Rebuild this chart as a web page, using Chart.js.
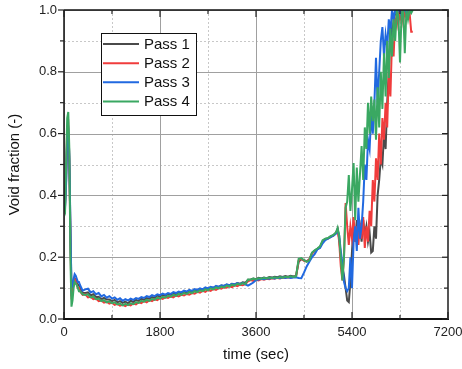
<!DOCTYPE html>
<html><head><meta charset="utf-8">
<script src="https://cdn.jsdelivr.net/npm/chart.js@4"></script>
<style>html,body{margin:0;padding:0;background:#fff}#wrap{position:relative;width:462px;height:369px}</style>
</head><body><div id="wrap"><canvas id="c" width="462" height="369"></canvas></div>
<script>
// time (sec)
const times = [0,20,40,60,80,100,120,140,160,180,200,220,240,260,280,300,
350,400,450,500,550,600,650,700,750,800,
850,900,950,1000,1050,1100,1150,1200,1250,1300,
1350,1400,1450,1500,1550,1600,1650,1700,1750,1800,
1850,1900,1950,2000,2050,2100,2150,2200,2250,2300,
2350,2400,2450,2500,2550,2600,2650,2700,2750,2800,
2850,2900,2950,3000,3050,3100,3150,3200,3250,3300,
3350,3400,3450,3500,3550,3600,3650,3700,3750,3800,
3850,3900,3950,4000,4050,4100,4150,4200,4250,4300,
4350,4400,4450,4500,4550,4600,4650,4700,4750,4800,4850,4900,4950,5000,5050,5100,
5130,5160,5190,5220,5250,5280,5310,5340,5370,5400,5430,5460,5490,5520,5550,5580,5610,5640,5670,5700,5730,5760,5790,5820,5850,5880,5910,5940,5970,6000,6030,6060,6090,6120,6150,6180,6210,6240,6270,6300,6330,6360,6390,6420,6450,6480,6510,6540];

const pass1 = [0.38,0.37,0.45,0.58,0.60,0.50,0.30,0.09,0.10,0.12,0.13,0.13,0.12,0.11,0.11,0.10,
.085,.084,.086,.076,.080,.071,.072,.064,.068,.063,
.063,.058,.062,.054,.058,.052,.056,.051,.059,.055,
.062,.058,.066,.062,.068,.066,.071,.068,.076,.073,
.078,.075,.081,.078,.083,.080,.086,.083,.089,.086,
.092,.089,.094,.092,.097,.095,.100,.098,.102,.101,
.105,.104,.108,.107,.111,.109,.114,.112,.116,.114,
.119,.117,.127,.128,.131,.129,.133,.131,.134,.132,
.136,.134,.137,.135,.138,.136,.139,.137,.140,.138,
.138,.185,.194,.19,.187,.193,.213,.221,.227,.233,.252,.259,.261,.267,.27,.279,
0.29,0.26,0.2,0.17,0.14,0.1,0.06,0.055,0.12,0.22,0.3,0.25,0.32,0.27,0.3,0.25,0.32,0.27,0.3,0.25,0.28,0.215,0.22,0.3,0.26,0.4,0.45,0.52,0.5,0.6,0.55,0.7,0.8,0.96,0.9,0.97,1.0,0.98,1.0,1.0,0.99,1.0,1.0,0.98,1.0,1.0,1.0,1.0];

const pass2 = [0.39,0.37,0.48,0.62,0.63,0.52,0.25,0.08,0.09,0.12,0.13,0.12,0.11,0.10,0.10,0.09,
.078,.080,.070,.072,.064,.066,.058,.060,.053,.056,
.050,.053,.046,.049,.043,.046,.042,.047,.044,.050,
.047,.054,.051,.058,.054,.061,.058,.064,.061,.068,
.065,.070,.068,.073,.070,.076,.073,.078,.076,.081,
.079,.084,.082,.088,.085,.091,.088,.094,.091,.097,
.094,.100,.098,.103,.101,.106,.103,.109,.106,.111,
.109,.113,.122,.126,.123,.127,.125,.129,.127,.130,
.129,.132,.130,.133,.131,.134,.133,.135,.134,.136,
.137,.19,.195,.188,.186,.192,.212,.22,.226,.232,.25,.258,.26,.266,.27,.278,
0.29,0.25,0.17,0.125,0.2,0.375,0.3,0.24,0.3,0.26,0.33,0.25,0.3,0.24,0.31,0.26,0.33,0.23,0.3,0.25,0.35,0.3,0.45,0.38,0.52,0.45,0.6,0.5,0.65,0.58,0.7,0.62,0.8,0.72,0.9,0.85,0.97,0.95,1.0,0.97,1.0,0.96,1.0,0.98,1.0,0.99,0.93,0.93];

const pass3 = [0.37,0.36,0.44,0.60,0.61,0.53,0.30,0.10,0.11,0.13,0.145,0.14,0.13,0.12,0.12,0.11,
.092,.096,.098,.086,.090,.080,.084,.073,.078,.069,
.074,.066,.070,.062,.067,.059,.064,.060,.066,.062,
.068,.065,.071,.068,.074,.071,.077,.074,.080,.077,
.082,.079,.084,.081,.087,.084,.089,.086,.092,.089,
.094,.091,.097,.094,.099,.096,.102,.099,.104,.101,
.107,.104,.109,.107,.112,.109,.114,.111,.116,.113,
.117,.112,.108,.113,.118,.126,.128,.130,.129,.132,
.130,.133,.131,.134,.132,.135,.133,.135,.133,.134,
.135,.133,.132,.15,.17,.185,.2,.21,.225,.23,.245,.255,.26,.265,.27,.276,
0.29,0.27,0.22,0.18,0.12,0.1,0.09,0.1,0.2,0.1,0.25,0.3,0.22,0.36,0.26,0.3,0.38,0.5,0.45,0.58,0.55,0.66,0.6,0.7,0.845,0.7,0.8,0.9,0.945,0.85,0.92,0.88,0.97,0.93,1.0,0.97,1.0,0.99,1.0,1.0,0.98,1.0,1.0,0.99,1.0,1.0,1.0,1.0];

const pass4 = [0.36,0.35,0.50,0.65,0.67,0.55,0.20,0.04,0.06,0.10,0.12,0.115,0.11,0.10,0.09,0.09,
.080,.078,.080,.070,.073,.064,.066,.058,.061,.054,
.057,.051,.054,.047,.050,.044,.049,.045,.051,.048,
.055,.052,.059,.056,.062,.059,.065,.062,.069,.066,
.072,.069,.075,.072,.078,.075,.081,.078,.084,.081,
.087,.084,.090,.087,.093,.090,.096,.093,.099,.096,
.102,.099,.105,.102,.108,.105,.111,.108,.114,.111,
.116,.113,.128,.127,.131,.128,.132,.130,.133,.131,
.134,.132,.135,.133,.136,.134,.137,.135,.138,.136,
.138,.195,.197,.19,.185,.19,.215,.222,.228,.235,.255,.26,.262,.268,.272,.28,
0.295,0.27,0.2,0.125,0.2,0.36,0.38,0.466,0.35,0.42,0.505,0.32,0.49,0.38,0.47,0.56,0.45,0.62,0.55,0.70,0.6,0.72,0.64,0.71,0.58,0.75,0.62,0.8,0.68,0.86,0.72,0.9,0.78,0.94,0.85,0.97,0.9,1.0,0.98,0.83,0.99,1.0,0.86,1.0,0.97,1.0,0.99,1.0];

const seriesNames = ['Pass 1','Pass 2','Pass 3','Pass 4'];
const seriesColors = ['#4a4a4a','#f03c3c','#2169e0','#3aa862'];
const xMajor = [0,1800,3600,5400,7200];
const xMinor = [900,2700,4500,6300];
const yMajor = [0,0.2,0.4,0.6,0.8,1.0];
const yMinor = [0.1,0.3,0.5,0.7,0.9];
const xTitle = 'time (sec)';
const yTitle = 'Void fraction (-)';

const FONT = '"Liberation Sans", Arial, sans-serif';
const allSeries = [pass1,pass2,pass3,pass4];

const datasets = allSeries.map((arr,k)=>({
  label: seriesNames[k],
  data: times.map((t,i)=>({x:t,y:arr[i]})),
  borderColor: seriesColors[k],
  backgroundColor: seriesColors[k],
  borderWidth: 2,
  pointRadius: 0,
  tension: 0,
  order: 4-k
}));

const frame = {
  id:'frame',
  beforeDatasetsDraw(chart){
    const {ctx, chartArea:a, scales:{x,y}} = chart;
    ctx.save();
    ctx.lineWidth = 1;
    ctx.strokeStyle = '#c8c8c8';
    ctx.setLineDash([2,2]);
    xMinor.forEach(v=>{const px=Math.round(x.getPixelForValue(v))+0.5;ctx.beginPath();ctx.moveTo(px,a.top);ctx.lineTo(px,a.bottom);ctx.stroke();});
    yMinor.forEach(v=>{const py=Math.round(y.getPixelForValue(v))+0.5;ctx.beginPath();ctx.moveTo(a.left,py);ctx.lineTo(a.right,py);ctx.stroke();});
    ctx.setLineDash([]);
    ctx.strokeStyle = '#a0a0a0';
    xMajor.forEach(v=>{const px=Math.round(x.getPixelForValue(v))+0.5;ctx.beginPath();ctx.moveTo(px,a.top);ctx.lineTo(px,a.bottom);ctx.stroke();});
    yMajor.forEach(v=>{const py=Math.round(y.getPixelForValue(v))+0.5;ctx.beginPath();ctx.moveTo(a.left,py);ctx.lineTo(a.right,py);ctx.stroke();});
    ctx.restore();
  },
  afterDatasetsDraw(chart){
    const {ctx, chartArea:a, scales:{x,y}} = chart;
    ctx.save();
    ctx.strokeStyle='#111'; ctx.lineWidth=1.5;
    ctx.beginPath(); ctx.moveTo(a.left,a.top); ctx.lineTo(a.right,a.top); ctx.stroke();
    ctx.beginPath(); ctx.moveTo(a.left,a.top); ctx.lineTo(a.left,a.bottom); ctx.stroke();
    ctx.lineWidth=2;
    ctx.beginPath(); ctx.moveTo(a.left-1,a.bottom); ctx.lineTo(a.right+1,a.bottom); ctx.stroke();
    ctx.strokeStyle='#555';
    ctx.beginPath(); ctx.moveTo(a.right,a.top-1); ctx.lineTo(a.right,a.bottom); ctx.stroke();
    ctx.strokeStyle='#222'; ctx.lineWidth=1.2;
    const tickX=(v,len)=>{const px=x.getPixelForValue(v);
      ctx.beginPath();ctx.moveTo(px,a.bottom);ctx.lineTo(px,a.bottom-len);ctx.stroke();
      ctx.beginPath();ctx.moveTo(px,a.top);ctx.lineTo(px,a.top+len);ctx.stroke();};
    const tickY=(v,len)=>{const py=y.getPixelForValue(v);
      ctx.beginPath();ctx.moveTo(a.left,py);ctx.lineTo(a.left-len,py);ctx.stroke();
      ctx.beginPath();ctx.moveTo(a.right,py);ctx.lineTo(a.right-len,py);ctx.stroke();};
    xMajor.forEach(v=>tickX(v,7)); xMinor.forEach(v=>tickX(v,4));
    yMajor.forEach(v=>tickY(v,6)); yMinor.forEach(v=>tickY(v,4));
    const lx=101, ly=33, lw=95, lh=82;
    ctx.fillStyle='#fff'; ctx.fillRect(lx,ly,lw,lh);
    ctx.strokeStyle='#111'; ctx.lineWidth=1; ctx.strokeRect(lx+0.5,ly+0.5,lw,lh);
    const rows=[44,63.3,82.3,101.5];
    ctx.font='15px '+FONT; ctx.textBaseline='middle'; ctx.textAlign='left';
    seriesNames.forEach((n,k)=>{
      ctx.strokeStyle=seriesColors[k]; ctx.lineWidth=2;
      ctx.beginPath(); ctx.moveTo(103,rows[k]); ctx.lineTo(139,rows[k]); ctx.stroke();
      ctx.fillStyle='#111'; ctx.fillText(n,144,rows[k]+0.5);
    });
    ctx.fillStyle='#111'; ctx.font='15px '+FONT; ctx.textAlign='center'; ctx.textBaseline='middle';
    ctx.fillText(xTitle,(a.left+a.right)/2,355);
    ctx.translate(15,(a.top+a.bottom)/2); ctx.rotate(-Math.PI/2);
    ctx.fillText(yTitle,0,0);
    ctx.restore();
  }
};

new Chart(document.getElementById('c').getContext('2d'), {
  type:'line',
  data:{datasets},
  options:{
    responsive:false, animation:false, devicePixelRatio:1,
    layout:{padding:{left:0,right:14,top:10,bottom:0}},
    plugins:{legend:{display:false}, tooltip:{enabled:false}},
    scales:{
      x:{type:'linear', min:0, max:7200,
        grid:{display:false, drawTicks:false}, border:{display:false},
        ticks:{stepSize:1800, padding:6, color:'#222', maxRotation:0, autoSkip:false,
          font:{family:FONT, size:13}, callback:v=>String(v)},
        afterFit(s){s.height=50; s.paddingLeft=0; s.paddingRight=0;}},
      y:{type:'linear', min:0, max:1,
        grid:{display:false, drawTicks:false}, border:{display:false},
        ticks:{stepSize:0.2, padding:7, color:'#222', font:{family:FONT, size:13},
          callback:v=>Number(v).toFixed(1)},
        afterFit(s){s.width=64; s.paddingTop=0; s.paddingBottom=0;}}
    }
  },
  plugins:[frame]
});
</script></body></html>
